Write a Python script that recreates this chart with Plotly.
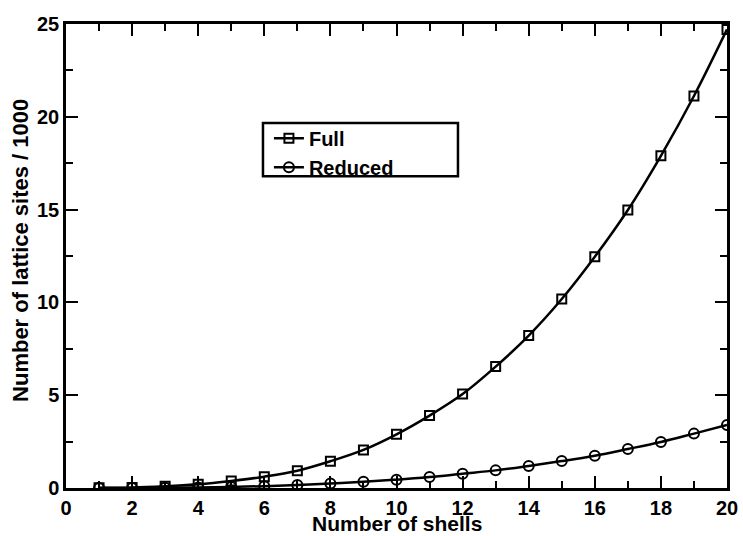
import plotly.graph_objects as go

shells = list(range(1, 21))
full = [0.01, 0.03, 0.1, 0.2, 0.38, 0.61, 0.93, 1.44, 2.05, 2.89,
        3.9, 5.06, 6.54, 8.21, 10.18, 12.46, 14.98, 17.9, 21.12, 24.71]
reduced = [0.001, 0.005, 0.015, 0.03, 0.06, 0.1, 0.16, 0.24, 0.34, 0.45,
           0.59, 0.77, 0.95, 1.19, 1.45, 1.74, 2.1, 2.48, 2.93, 3.39]

x_ticks = [0, 2, 4, 6, 8, 10, 12, 14, 16, 18, 20]
y_ticks = [0, 5, 10, 15, 20, 25]

FONT = "Liberation Sans, Arial, Helvetica, sans-serif"

fig = go.Figure()
fig.add_trace(go.Scatter(
    x=shells, y=full, name="Full", mode="lines+markers",
    line=dict(color="black", width=2.5, shape="spline"),
    marker=dict(symbol="square-open", size=9, color="black", line=dict(width=2, color="black")),
))
fig.add_trace(go.Scatter(
    x=shells, y=reduced, name="Reduced", mode="lines+markers",
    line=dict(color="black", width=2.5, shape="spline"),
    marker=dict(symbol="circle-open", size=10, color="black", line=dict(width=2, color="black")),
))

axis_common = dict(
    showline=True, linecolor="black", linewidth=2.5, mirror="ticks",
    ticks="inside", ticklen=12, tickwidth=2, tickcolor="black",
    showgrid=False, zeroline=False, automargin=False,
    tickfont=dict(family=FONT, size=20, color="black", weight="bold"),
)

fig.update_xaxes(
    range=[0, 20], tickvals=x_ticks,
    minor=dict(ticks="inside", ticklen=7, tickwidth=2, tickcolor="black", dtick=1, tick0=0),
    **axis_common,
)
fig.update_yaxes(
    range=[0, 25], tickvals=y_ticks,
    minor=dict(ticks="inside", ticklen=7, tickwidth=2, tickcolor="black", dtick=2.5, tick0=0),
    **axis_common,
)

fig.add_annotation(
    text="<b>Number of shells</b>", xref="paper", yref="paper",
    x=0.5015, y=-0.076, xanchor="center", yanchor="middle", showarrow=False,
    font=dict(family=FONT, size=21, color="black"),
)
fig.add_annotation(
    text="<b>Number of lattice sites / 1000</b>", xref="paper", yref="paper",
    x=-0.068, y=0.511, xanchor="center", yanchor="middle", showarrow=False,
    textangle=-90, font=dict(family=FONT, size=22, color="black"),
)

# legend frame
fig.add_shape(
    type="rect", xref="paper", yref="paper",
    x0=0.298, x1=0.593, y0=0.672, y1=0.7866,
    line=dict(color="black", width=2.5), fillcolor="rgba(0,0,0,0)", layer="above",
)

fig.update_layout(
    width=743, height=536,
    margin=dict(l=66, r=16, t=24, b=48),
    plot_bgcolor="white", paper_bgcolor="white",
    font=dict(family=FONT, color="black"),
    legend=dict(
        x=0.307, y=0.7956, xanchor="left", yanchor="top",
        borderwidth=0, bgcolor="rgba(0,0,0,0)",
        font=dict(family=FONT, size=20, color="black", weight="bold"),
        itemwidth=30, tracegroupgap=0,
    ),
)

fig.write_html("out.html")
